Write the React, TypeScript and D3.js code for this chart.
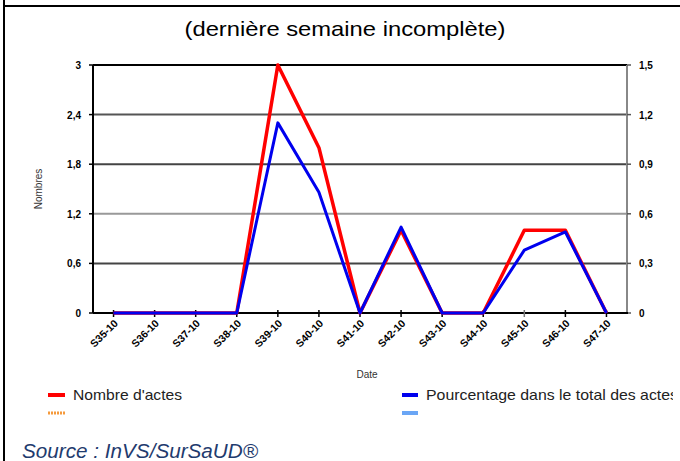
import React, {useRef, useEffect} from 'react';
import * as d3 from 'd3';

// weeks on x axis
const weeks = ['S35-10', 'S36-10', 'S37-10', 'S38-10', 'S39-10', 'S40-10', 'S41-10',
    'S42-10', 'S43-10', 'S44-10', 'S45-10', 'S46-10', 'S47-10'];
// left axis: number of acts
const nombreActes = [0, 0, 0, 0, 3, 2, 0, 1, 0, 0, 1, 1, 0];
// right axis: share of all acts (%)
const pourcentage = [0, 0, 0, 0, 1.15, 0.73, 0, 0.52, 0, 0, 0.38, 0.49, 0];
const leftTicks = [0, 0.6, 1.2, 1.8, 2.4, 3];
const rightTicks = [0, 0.3, 0.6, 0.9, 1.2, 1.5];

const fmt = (d: number) => String(d).replace('.', ',');

const App = () => {
    const svgRef = useRef<HTMLDivElement>(null);
    const width = 680, height = 461;
    const margin = {left: 93, right: 53, top: 65, bottom: 148};

    useEffect(() => {
        document.body.style.margin = '0';
        d3.select(svgRef.current).selectAll('*').remove();

        const svg = d3.select(svgRef.current)
            .append('svg')
            .attr('width', width)
            .attr('height', height)
            .style('display', 'block')
            .attr('font-family', 'Liberation Sans, Arial, sans-serif');

        const x0 = margin.left, x1 = width - margin.right;
        const y0 = height - margin.bottom, y1 = margin.top;

        const xScale = d3.scaleBand().domain(weeks).range([x0, x1]);
        const xc = (d: string) => (xScale(d) as number) + xScale.bandwidth() / 2;
        const yLeft = d3.scaleLinear().domain([0, 3]).range([y0, y1]);
        const yRight = d3.scaleLinear().domain([0, 1.5]).range([y0, y1]);

        // clip for the legend text that runs off the right side
        svg.append('clipPath').attr('id', 'legclip')
            .append('rect').attr('x', 0).attr('y', 0).attr('width', 673).attr('height', height);

        // outer frame bits
        svg.append('line').attr('x1', 4).attr('x2', 4).attr('y1', 0).attr('y2', height)
            .attr('stroke', '#000').attr('stroke-width', 2);
        svg.append('line').attr('x1', 4).attr('x2', width).attr('y1', 6).attr('y2', 6)
            .attr('stroke', '#000').attr('stroke-width', 2);

        svg.append('text')
            .attr('x', 345).attr('y', 36)
            .attr('text-anchor', 'middle')
            .attr('font-size', '21px')
            .attr('textLength', 321)
            .attr('lengthAdjust', 'spacingAndGlyphs')
            .text('(dernière semaine incomplète)');

        // grid lines
        const gridColors: {[k: string]: string} = {'0.6': '#444', '1.2': '#999', '1.8': '#444', '2.4': '#555'};
        leftTicks.filter(t => t > 0 && t < 3).forEach(t => {
            svg.append('line')
                .attr('x1', x0).attr('x2', x1)
                .attr('y1', yLeft(t)).attr('y2', yLeft(t))
                .attr('stroke', gridColors[String(t)] || '#555')
                .attr('stroke-width', 2);
        });

        // plot frame
        svg.append('line').attr('x1', x0).attr('x2', x1).attr('y1', y1).attr('y2', y1)
            .attr('stroke', '#000').attr('stroke-width', 2);
        svg.append('line').attr('x1', x1).attr('x2', x1).attr('y1', y1).attr('y2', y0)
            .attr('stroke', '#888').attr('stroke-width', 2);
        svg.append('line').attr('x1', x0).attr('x2', x0).attr('y1', y1).attr('y2', y0)
            .attr('stroke', '#000').attr('stroke-width', 2);

        // left axis
        leftTicks.forEach(t => {
            svg.append('line').attr('x1', x0 - 4).attr('x2', x0).attr('y1', yLeft(t)).attr('y2', yLeft(t))
                .attr('stroke', '#000').attr('stroke-width', 1.5);
            svg.append('text')
                .attr('x', x0 - 12).attr('y', yLeft(t) + 4)
                .attr('text-anchor', 'end')
                .attr('font-size', '10px').attr('font-weight', 'bold')
                .text(fmt(t));
        });

        // right axis
        rightTicks.forEach(t => {
            svg.append('line').attr('x1', x1).attr('x2', x1 + 4).attr('y1', yRight(t)).attr('y2', yRight(t))
                .attr('stroke', '#555').attr('stroke-width', 1.5);
            svg.append('text')
                .attr('x', x1 + 12).attr('y', yRight(t) + 4)
                .attr('font-size', '10px').attr('font-weight', 'bold')
                .text(fmt(t));
        });

        svg.append('text')
            .attr('transform', 'translate(42,' + ((y0 + y1) / 2) + ') rotate(-90)')
            .attr('text-anchor', 'middle')
            .attr('font-size', '10px')
            .attr('fill', '#333')
            .text('Nombres');

        // bottom axis
        svg.append('line').attr('x1', x0).attr('x2', x1 + 1).attr('y1', y0).attr('y2', y0)
            .attr('stroke', '#000').attr('stroke-width', 2);
        weeks.forEach(w => {
            svg.append('line').attr('x1', xc(w)).attr('x2', xc(w)).attr('y1', y0 - 3).attr('y2', y0 + 4)
                .attr('stroke', w === 'S45-10' ? '#777' : '#000').attr('stroke-width', 1.5);
            svg.append('text')
                .attr('transform', 'translate(' + (xc(w) + 5) + ',' + (y0 + 11) + ') rotate(-45)')
                .attr('text-anchor', 'end')
                .attr('font-size', '10.5px').attr('font-weight', 'bold')
                .text(w);
        });

        svg.append('text')
            .attr('x', 367).attr('y', 378)
            .attr('text-anchor', 'middle')
            .attr('font-size', '10px')
            .attr('fill', '#333')
            .text('Date');

        // series
        const redLine = d3.line<number>()
            .x((d, i) => xc(weeks[i]))
            .y(d => yLeft(d));
        const blueLine = d3.line<number>()
            .x((d, i) => xc(weeks[i]))
            .y(d => yRight(d));

        svg.append('path').datum(nombreActes)
            .attr('d', redLine)
            .attr('fill', 'none')
            .attr('stroke', '#ff0000')
            .attr('stroke-width', 3.5)
            .attr('stroke-linejoin', 'round');
        svg.append('path').datum(pourcentage)
            .attr('d', blueLine)
            .attr('fill', 'none')
            .attr('stroke', '#0000ee')
            .attr('stroke-width', 3)
            .attr('stroke-linejoin', 'round');

        // legend
        const legend = svg.append('g').attr('font-size', '15px').attr('clip-path', 'url(#legclip)');
        legend.append('rect').attr('x', 48).attr('y', 393).attr('width', 17).attr('height', 4).attr('fill', '#ff0000');
        legend.append('text').attr('x', 73).attr('y', 400).attr('fill', '#222')
            .attr('textLength', 109).attr('lengthAdjust', 'spacingAndGlyphs')
            .text("Nombre d'actes");
        legend.append('line').attr('x1', 48).attr('x2', 65).attr('y1', 413).attr('y2', 413)
            .attr('stroke', '#f59a3c').attr('stroke-width', 3).attr('stroke-dasharray', '2,1');
        legend.append('rect').attr('x', 402).attr('y', 393).attr('width', 16).attr('height', 4).attr('fill', '#0000ee');
        legend.append('text').attr('x', 426).attr('y', 400).attr('fill', '#222')
            .attr('textLength', 252).attr('lengthAdjust', 'spacingAndGlyphs')
            .text('Pourcentage dans le total des actes');
        legend.append('rect').attr('x', 402).attr('y', 411).attr('width', 16).attr('height', 4).attr('fill', '#6aa6f5');

        svg.append('text')
            .attr('x', 22).attr('y', 458)
            .attr('font-size', '20px')
            .attr('font-style', 'italic')
            .attr('fill', '#1f3b6e')
            .attr('textLength', 236).attr('lengthAdjust', 'spacingAndGlyphs')
            .text('Source : InVS/SurSaUD®');
    }, []);

    return <div ref={svgRef}/>;
};

export default App;
